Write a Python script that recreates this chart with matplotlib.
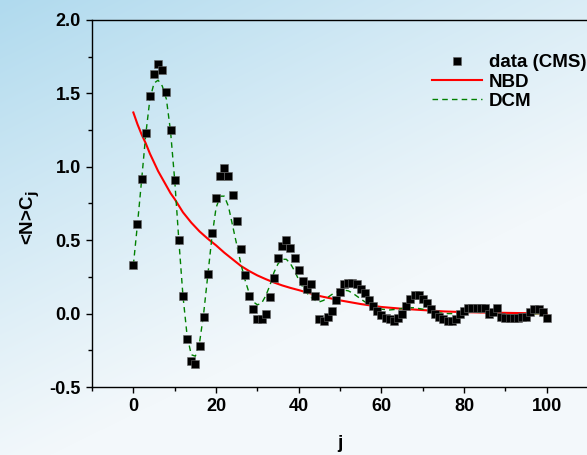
import numpy as np
import matplotlib
matplotlib.use("Agg")
import matplotlib.pyplot as plt
from matplotlib.ticker import MultipleLocator

# data (CMS), j = 0..100
data_j = list(range(0, 101))
data_y = [
    0.33, 0.61, 0.92, 1.23, 1.48, 1.63, 1.70, 1.66, 1.51, 1.25,
    0.91, 0.50, 0.12, -0.17, -0.32, -0.34, -0.22, -0.02, 0.27, 0.55,
    0.79, 0.94, 0.99, 0.94, 0.81, 0.63, 0.44, 0.26, 0.12, 0.03,
    -0.04, -0.04, 0.00, 0.11, 0.24, 0.38, 0.46, 0.50, 0.45, 0.38,
    0.30, 0.22, 0.17, 0.20, 0.12, -0.04, -0.05, -0.02, 0.02, 0.09,
    0.15, 0.20, 0.21, 0.21, 0.20, 0.17, 0.14, 0.09, 0.05, 0.02,
    -0.01, -0.03, -0.04, -0.05, -0.03, 0.00, 0.05, 0.10, 0.13, 0.13,
    0.10, 0.07, 0.03, 0.00, -0.02, -0.04, -0.05, -0.05, -0.04, 0.00,
    0.02, 0.04, 0.04, 0.04, 0.04, 0.04, 0.00, 0.01, 0.04, -0.02,
    -0.03, -0.03, -0.03, -0.03, -0.02, -0.02, 0.01, 0.03, 0.03, 0.01,
    -0.03,
]

# NBD curve
nbd_j = [0, 1, 2, 3, 4, 5, 6, 7, 8, 9, 10, 12, 14, 16, 18, 20, 22, 24,
         26, 28, 30, 32, 34, 36, 38, 40, 45, 50, 55, 60, 65, 70, 75, 80,
         85, 90, 95, 100]
nbd_y = [1.37, 1.29, 1.22, 1.16, 1.09, 1.03, 0.97, 0.92, 0.87, 0.82,
         0.78, 0.69, 0.62, 0.56, 0.51, 0.465, 0.415, 0.37, 0.325, 0.29,
         0.26, 0.235, 0.212, 0.192, 0.175, 0.16, 0.12, 0.09, 0.065,
         0.045, 0.033, 0.024, 0.015, 0.010, 0.007, 0.005, 0.003, 0.001]

# DCM curve
dcm_j = list(range(0, 61)) + [62, 64, 66, 68, 70, 72, 74, 76, 78, 80,
                              82, 84, 86, 88, 90, 92, 94, 96, 98, 100]
dcm_y = [
    0.33, 0.61, 0.91, 1.22, 1.46, 1.57, 1.59, 1.55, 1.46, 1.24,
    0.91, 0.50, 0.12, -0.15, -0.28, -0.29, -0.20, 0.00, 0.26, 0.52,
    0.72, 0.80, 0.80, 0.73, 0.60, 0.47, 0.34, 0.23, 0.14, 0.08,
    0.06, 0.07, 0.12, 0.19, 0.28, 0.34, 0.37, 0.37, 0.34, 0.29,
    0.23, 0.18, 0.14, 0.11, 0.09, 0.08, 0.09, 0.11, 0.13, 0.145,
    0.155, 0.16, 0.155, 0.14, 0.12, 0.10, 0.08, 0.06, 0.045, 0.035,
    0.03,
    0.025, 0.03, 0.04, 0.04, 0.03, 0.015, 0.005, 0.0, 0.0, 0.005,
    0.01, 0.008, 0.0, -0.005, -0.007, -0.008, -0.007, -0.003, 0.0, 0.0,
]

plt.rcParams['font.family'] = ['Liberation Sans', 'DejaVu Sans']
plt.rcParams['font.weight'] = 'bold'
plt.rcParams['mathtext.default'] = 'bf'

fig = plt.figure(figsize=(5.87, 4.55), dpi=100)

# sky-like background gradient
bg = fig.add_axes([0, 0, 1, 1], zorder=-10)
h, w = 455, 587
yy, xx = np.mgrid[0:h, 0:w]
amt = np.clip(1 - (0.95 * yy / h + 0.6 * xx / w), 0, 1) ** 1.1
blue = np.array([176, 218, 238]) / 255
white = np.array([243, 248, 251]) / 255
img = white + (blue - white) * amt[..., None]
bg.imshow(img, aspect='auto', extent=[0, 1, 0, 1])
bg.axis('off')

ax = fig.add_axes([92 / 587, 1 - 387 / 455, 1.0 - 92 / 587 + 0.002, (387 - 20) / 455])
ax.set_facecolor('none')

ax.plot(nbd_j, nbd_y, color='#ff0000', lw=1.5, label='NBD', zorder=2)
ax.plot(dcm_j, dcm_y, color='#008000', lw=1.0, ls=(0, (4, 3)), label='DCM', zorder=3)
ax.plot(data_j, data_y, ls='none', marker='s', ms=6.3, color='black',
        mec='#666666', mew=0.4, label='data (CMS)', zorder=4)

ax.set_xlim(-10, 110)
ax.set_ylim(-0.5, 2.0)
ax.xaxis.set_major_locator(MultipleLocator(20))
ax.xaxis.set_minor_locator(MultipleLocator(10))
ax.yaxis.set_major_locator(MultipleLocator(0.5))
ax.yaxis.set_minor_locator(MultipleLocator(0.25))
ax.tick_params(which='major', direction='out', length=4.5, width=1.0, labelsize=13)
ax.tick_params(which='minor', direction='out', length=2.8, width=1.0)
ax.tick_params(top=False, right=False, which='both')
ax.spines['right'].set_visible(False)
for s in ['left', 'bottom', 'top']:
    ax.spines[s].set_linewidth(1.0)
ax.yaxis.set_major_formatter(matplotlib.ticker.FormatStrFormatter('%.1f'))

ax.set_xlabel('j', fontsize=13.5, fontweight='bold', labelpad=14)
ax.set_ylabel('<N>C$_{j}$', fontsize=13.5, fontweight='bold')
ax.yaxis.set_label_coords(-0.10, 0.46)

handles, labels = ax.get_legend_handles_labels()
order = [2, 0, 1]
leg = ax.legend([handles[i] for i in order], [labels[i] for i in order],
                loc='upper right', bbox_to_anchor=(1.0, 0.912), frameon=False,
                fontsize=13.5, handlelength=2.7, handletextpad=0.35,
                labelspacing=0.12, borderpad=0, borderaxespad=0.1)

fig.savefig('out.png', dpi=100)
